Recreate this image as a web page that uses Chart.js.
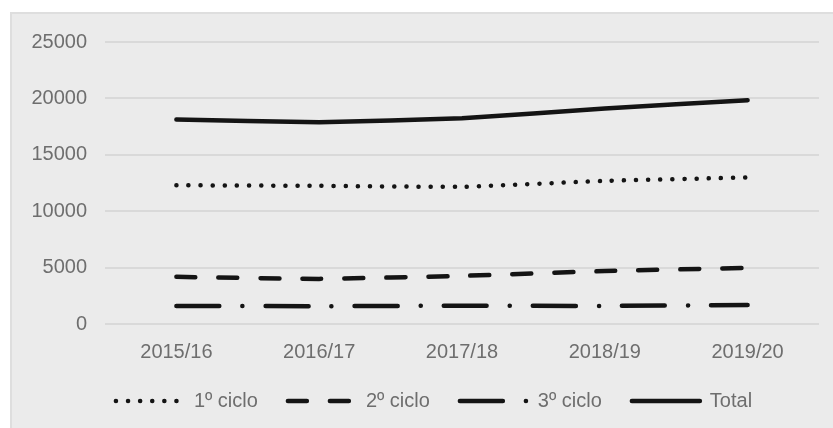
<!DOCTYPE html>
<html>
<head>
<meta charset="utf-8">
<script src="https://cdn.jsdelivr.net/npm/chart.js@4/dist/chart.umd.min.js"></script>
<style>
  body { margin: 0; background: #fff; }
  #bg {
    position: absolute; left: 10px; top: 12px; right: 0; bottom: 0;
    background: #ebebeb; border-left: 2px solid #dedede; border-top: 2px solid #dedede;
  }
  #wrap { position: absolute; left: 0; top: 0; width: 833px; height: 428px; }
</style>
</head>
<body>
<div id="bg"></div>
<div id="wrap"><canvas id="chart"></canvas></div>
<script>
const labels = ['2015/16', '2016/17', '2017/18', '2018/19', '2019/20'];
const ciclo1 = [12300, 12250, 12160, 12690, 12990];
const ciclo2 = [4180, 4000, 4270, 4690, 4980];
const ciclo3 = [1600, 1580, 1620, 1600, 1690];
const total = [18120, 17880, 18240, 19100, 19840];
const yTicks = [0, 5000, 10000, 15000, 20000, 25000];

(() => {
    const font = { family: "'Liberation Sans', Arial, sans-serif", size: 20 };
    const textColor = '#6e6e6e';
    const line = (label, data, dash) => ({
        label: label,
        data: data,
        borderColor: '#141414',
        backgroundColor: '#141414',
        borderWidth: 4.5,
        borderDash: dash,
        borderCapStyle: 'round',
        pointRadius: 0,
        tension: 0.1,
        fill: false
    });

    // nudge the legend row to the right, like the original
    const shiftLegend = {
        id: 'shiftLegend',
        afterLayout(chart) {
            chart.legend.left += 24.5;
            chart.legend.right += 24.5;
        }
    };

    const config = {
        type: 'line',
        data: {
            labels: labels,
            datasets: [
                line('1º ciclo', ciclo1, [0.1, 12]),
                line('2º ciclo', ciclo2, [19, 23]),
                line('3º ciclo', ciclo3, [43, 23, 0.1, 23]),
                line('Total', total, [])
            ]
        },
        options: {
            responsive: true,
            maintainAspectRatio: false,
            animation: false,
            layout: { padding: { left: 0, right: 14, top: 42, bottom: 7 } },
            plugins: {
                tooltip: { enabled: false },
                legend: {
                    position: 'bottom',
                    labels: {
                        usePointStyle: true,
                        pointStyle: 'line',
                        pointStyleWidth: 68,
                        boxHeight: 12,
                        padding: 30,
                        color: textColor,
                        font: font,
                        generateLabels: (chart) => chart.data.datasets.map((ds, i) => ({
                            text: ds.label,
                            datasetIndex: i,
                            fillStyle: ds.borderColor,
                            strokeStyle: ds.borderColor,
                            lineWidth: ds.borderWidth,
                            lineDash: ds.borderDash,
                            lineCap: 'round',
                            pointStyle: 'line',
                            fontColor: textColor,
                            hidden: false
                        }))
                    }
                }
            },
            scales: {
                x: {
                    offset: true,
                    grid: { display: false, drawTicks: false },
                    border: { display: false },
                    afterFit: (axis) => { axis.height = 37; },
                    ticks: { color: textColor, font: font, padding: 16, maxRotation: 0 }
                },
                y: {
                    min: 0,
                    max: 25000,
                    afterBuildTicks: (axis) => { axis.ticks = yTicks.map(v => ({ value: v })); },
                    afterFit: (axis) => { axis.width = 105; },
                    grid: { color: '#d9d9d9', lineWidth: 2, drawTicks: false },
                    border: { display: false },
                    ticks: { color: textColor, font: font, padding: 18, callback: (v) => String(v) }
                }
            }
        },
        plugins: [shiftLegend]
    };
    new Chart(document.getElementById('chart'), config);
})();
</script>
</body>
</html>
